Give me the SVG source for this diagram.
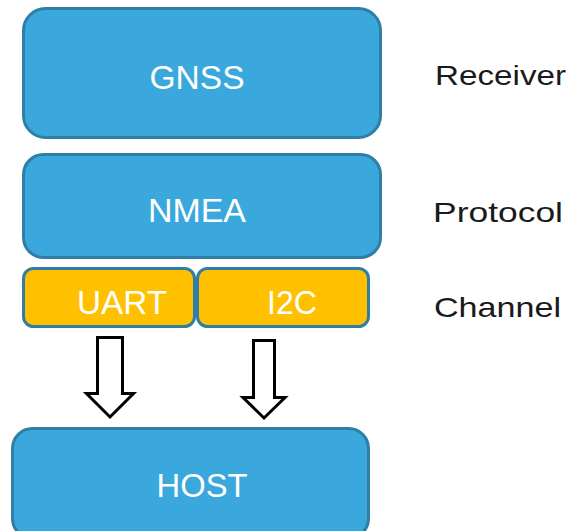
<svg xmlns="http://www.w3.org/2000/svg" width="571" height="531" viewBox="0 0 571 531">
<style>
.blue{fill:#3aa8dc;stroke:#2f7ea5;stroke-width:3}
.yel{fill:#ffc000;stroke:#2f7ea5;stroke-width:3}
.t{font-family:"Liberation Sans",Arial,sans-serif;fill:#ffffff;text-anchor:middle;font-size:33px}
.lbl{font-family:"Liberation Sans",Arial,sans-serif;fill:#1a1a1a;font-size:28px}
.arr{fill:#ffffff;stroke:#000000;stroke-width:3;stroke-linejoin:miter}
</style>
<rect width="571" height="531" fill="#ffffff"/>
<g id="gnss"><rect class="blue" x="23.5" y="8.5" width="357" height="129" rx="22"/><text class="t" x="197" y="89" textLength="95" lengthAdjust="spacingAndGlyphs">GNSS</text></g>
<g id="nmea"><rect class="blue" x="23.5" y="154.5" width="357" height="103" rx="20"/><text class="t" x="197" y="222" textLength="98" lengthAdjust="spacingAndGlyphs">NMEA</text></g>
<g id="uart"><rect class="yel" x="23.5" y="268.5" width="171" height="58" rx="10"/><text class="t" x="122" y="314" textLength="90" lengthAdjust="spacingAndGlyphs">UART</text></g>
<g id="i2c"><rect class="yel" x="197.5" y="268.5" width="171" height="58" rx="10"/><text class="t" x="292" y="314" textLength="50" lengthAdjust="spacingAndGlyphs">I2C</text></g>
<g id="host"><rect class="blue" x="12.5" y="428.5" width="356" height="110" rx="20"/><text class="t" x="202" y="497" textLength="91" lengthAdjust="spacingAndGlyphs">HOST</text></g>
<g id="receiver-label"><text class="lbl" x="435" y="85" textLength="131" lengthAdjust="spacingAndGlyphs">Receiver</text></g>
<g id="protocol-label"><text class="lbl" x="433" y="222" textLength="130" lengthAdjust="spacingAndGlyphs">Protocol</text></g>
<g id="channel-label"><text class="lbl" x="434" y="317" textLength="127" lengthAdjust="spacingAndGlyphs">Channel</text></g>
<g id="connectors">
<polygon class="arr" points="97.5,337.5 122.5,337.5 122.5,393.5 133.5,393.5 110,417 86.5,393.5 97.5,393.5"/>
<polygon class="arr" points="253.5,340.5 274.5,340.5 274.5,397.5 285,397.5 264,418 243,397.5 253.5,397.5"/>
</g>
</svg>
